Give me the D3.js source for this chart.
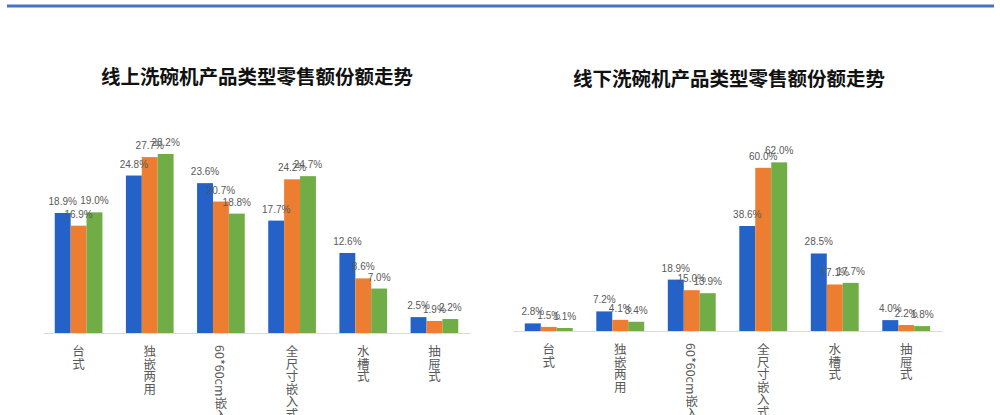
<!DOCTYPE html>
<html>
<head>
<meta charset="utf-8">
<script src="https://cdn.jsdelivr.net/npm/d3@7"></script>
<style>
html,body{margin:0;padding:0;background:#fff;}
svg{display:block;}
</style>
</head>
<body>
<svg id="chart" width="1000" height="415"></svg>
<script>
const categories = ["台式", "独嵌两用", "60*60cm嵌入式", "全尺寸嵌入式", "水槽式", "抽屉式"];
const seriesNames = ["A", "B", "C"];
const onlineTitle = "线上洗碗机产品类型零售额份额走势";
const offlineTitle = "线下洗碗机产品类型零售额份额走势";
const onlineA = [18.9, 24.8, 23.6, 17.7, 12.6, 2.5];
const onlineB = [16.9, 27.7, 20.7, 24.2, 8.6, 1.9];
const onlineC = [19.0, 28.2, 18.8, 24.7, 7.0, 2.2];
const offlineA = [2.8, 7.2, 18.9, 38.6, 28.5, 4.0];
const offlineB = [1.5, 4.1, 15.0, 60.0, 17.1, 2.2];
const offlineC = [1.1, 3.4, 13.9, 62.0, 17.7, 1.8];
const colors = ["#2462C8", "#ED7D31", "#70AD47"];

const svg = d3.select("#chart");
svg.append("rect").attr("width", 1000).attr("height", 415).attr("fill", "#fff");
svg.append("line").attr("x1", 7).attr("x2", 994).attr("y1", 6).attr("y2", 6)
  .attr("stroke", "#4472C4").attr("stroke-width", 3);

function drawChart(cfg) {
  const g = svg.append("g");
  const x0 = d3.scaleBand().domain(categories).range([cfg.x0, cfg.x1]).paddingInner(0.33).paddingOuter(0.165);
  const x1 = d3.scaleBand().domain(seriesNames).range([0, x0.bandwidth()]);
  const y = d3.scaleLinear().domain([0, cfg.max]).range([cfg.base, cfg.base - cfg.h]);
  const rows = categories.map((c, i) => ({cat: c, vals: cfg.series.map((s, j) => ({k: seriesNames[j], v: s[i], j}))}));

  g.append("text").attr("x", cfg.tx).attr("y", cfg.ty).attr("text-anchor", "middle")
    .attr("font-family", "Noto Sans CJK SC").attr("font-weight", "bold").attr("font-size", 19.5)
    .attr("fill", "#111").text(cfg.title);

  const grp = g.selectAll("g.cat").data(rows).join("g")
    .attr("transform", d => `translate(${x0(d.cat)},0)`);
  grp.selectAll("rect").data(d => d.vals).join("rect")
    .attr("x", d => x1(d.k)).attr("width", x1.bandwidth())
    .attr("y", d => y(d.v)).attr("height", d => y(0) - y(d.v))
    .attr("fill", d => colors[d.j]);
  grp.selectAll("text.lbl").data(d => d.vals).join("text").attr("class", "lbl")
    .attr("x", d => x1(d.k) + x1.bandwidth() / 2).attr("y", d => y(d.v) - 8)
    .attr("text-anchor", "middle").attr("font-family", "Liberation Sans, Arial").attr("font-size", 10)
    .attr("fill", "#595959").text(d => d.v.toFixed(1) + "%");

  const axis = d3.axisBottom(x0).tickSize(0).tickFormat("");
  const ax = g.append("g").attr("transform", `translate(0,${cfg.base})`).call(axis);
  ax.select(".domain").attr("stroke", "#d9d9d9").attr("stroke-width", 1.2);

  g.selectAll("text.cat").data(categories).join("text").attr("class", "cat")
    .attr("x", d => x0(d) + x0.bandwidth() / 2).attr("y", cfg.base + 12)
    .attr("style", "writing-mode: vertical-rl; text-orientation: mixed;")
    .attr("font-family", "Noto Sans CJK SC").attr("font-size", 12.5)
    .attr("fill", "#595959").text(d => d);
}

drawChart({x0: 43, x1: 470, base: 333, max: 30, h: 190.5, series: [onlineA, onlineB, onlineC], title: onlineTitle, tx: 257, ty: 84});
drawChart({x0: 513, x1: 942, base: 331, max: 70, h: 190.4, series: [offlineA, offlineB, offlineC], title: offlineTitle, tx: 729, ty: 86});
</script>
</body>
</html>
